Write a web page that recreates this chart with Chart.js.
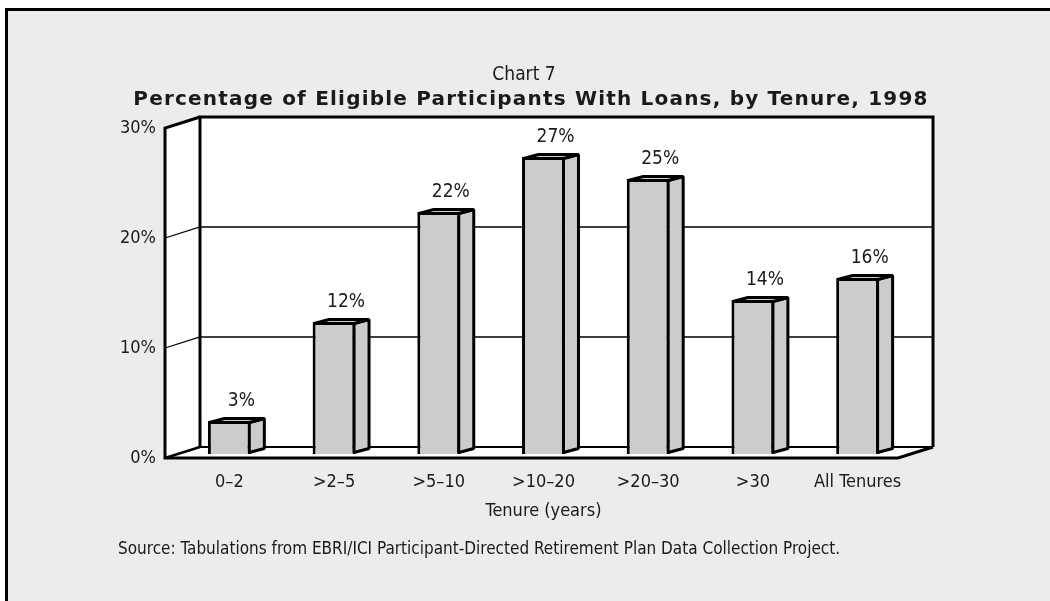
<!DOCTYPE html>
<html>
<head>
<meta charset="utf-8">
<script src="https://cdn.jsdelivr.net/npm/chart.js@4.4.0/dist/chart.umd.min.js"></script>
<style>
  html, body { margin: 0; padding: 0; background: #fff; }
</style>
</head>
<body>
<canvas id="loanChart" width="1050" height="601"></canvas>
<script>
const tenures = ["0–2", ">2–5", ">5–10", ">10–20", ">20–30", ">30", "All Tenures"];
const loanShare = [3, 12, 22, 27, 25, 14, 16];
const yTicks = [0, 10, 20, 30];

const NARROW = "'Liberation Sans Narrow', 'DejaVu Sans Condensed', 'Arial Narrow', sans-serif";
const INK = "#1a1a1a";

// oblique offsets (px) relative to the plane the bar fronts sit on
const FRONT = { dx: -12, dy: 4 };
const BACK = { dx: 23, dy: -7 };
const SIDE = { dx: 15, dy: -4 };

function line(ctx, pts, width) {
  ctx.beginPath();
  ctx.moveTo(pts[0][0], pts[0][1]);
  for (let i = 1; i < pts.length; i++) ctx.lineTo(pts[i][0], pts[i][1]);
  ctx.lineWidth = width;
  ctx.stroke();
}

function poly(ctx, pts, fill, width) {
  ctx.beginPath();
  ctx.moveTo(pts[0][0], pts[0][1]);
  for (let i = 1; i < pts.length; i++) ctx.lineTo(pts[i][0], pts[i][1]);
  ctx.closePath();
  if (fill) { ctx.fillStyle = fill; ctx.fill(); }
  if (width) { ctx.lineWidth = width; ctx.stroke(); }
}

const panel = {
  id: "panel",
  beforeDraw(chart) {
    const { ctx, width, height } = chart;
    ctx.save();
    ctx.fillStyle = "#fff";
    ctx.fillRect(0, 0, width, height);
    ctx.fillStyle = "#ececec";
    ctx.fillRect(5, 8, width, height);
    ctx.strokeStyle = "#000";
    line(ctx, [[6.5, height + 5], [6.5, 9.5], [width + 5, 9.5]], 3);
    ctx.restore();
  }
};

// back wall, left wall and floor
const box3d = {
  id: "box3d",
  beforeDatasetsDraw(chart) {
    const { ctx, chartArea: a, scales: { y } } = chart;
    const fl = a.left + FRONT.dx, fr = a.right + FRONT.dx;
    const bl = a.left + BACK.dx, br = a.right + BACK.dx;
    const fy = v => y.getPixelForValue(v) + FRONT.dy;
    const by = v => y.getPixelForValue(v) + BACK.dy;
    const lo = yTicks[0], hi = yTicks[yTicks.length - 1];
    ctx.save();
    ctx.strokeStyle = "#000";
    ctx.lineJoin = "miter";
    ctx.miterLimit = 3;
    poly(ctx, [[bl, by(hi)], [br, by(hi)], [br, by(lo)], [bl, by(lo)]], "#fff");
    poly(ctx, [[fl, fy(hi)], [bl, by(hi)], [bl, by(lo)], [fl, fy(lo)]], "#fff");
    poly(ctx, [[fl, fy(lo)], [bl, by(lo)], [br, by(lo)], [fr, fy(lo)]], "#fff");
    yTicks.slice(1, -1).forEach(v => {
      line(ctx, [[fl, fy(v)], [bl, by(v)], [br, by(v)]], 1.3);
    });
    line(ctx, [[bl, by(lo)], [br, by(lo)]], 2);
    line(ctx, [[bl, by(lo)], [bl, by(hi)], [br, by(hi)], [br, by(lo)]], 3);
    line(ctx, [[bl, by(hi)], [fl, fy(hi)], [fl, fy(lo)], [fr, fy(lo)], [br, by(lo)]], 3);
    line(ctx, [[fl, fy(lo)], [bl, by(lo)]], 2.5);
    ctx.restore();
  }
};

// side and top faces of each bar, plus the value labels
const bars3d = {
  id: "bars3d",
  afterDatasetsDraw(chart) {
    const { ctx } = chart;
    const meta = chart.getDatasetMeta(0);
    ctx.save();
    ctx.strokeStyle = "#000";
    ctx.lineJoin = "bevel";
    meta.data.forEach((bar, i) => {
      const { x, y, base, width } = bar.getProps(["x", "y", "base", "width"], true);
      const l = x - width / 2 + 1.5, r = x + width / 2 - 1.5, t = y + 1.5, b = base - 1.5;
      poly(ctx, [[r, t], [r + SIDE.dx, t + SIDE.dy], [r + SIDE.dx, b + SIDE.dy], [r, b]], "#cccccc", 3);
      poly(ctx, [[l, t], [l + SIDE.dx, t + SIDE.dy], [r + SIDE.dx, t + SIDE.dy], [r, t]], "#cccccc", 3);
      ctx.fillStyle = INK;
      ctx.font = "19px " + NARROW;
      ctx.textAlign = "center";
      ctx.textBaseline = "middle";
      ctx.fillText(loanShare[i] + "%", x + 12, y - 20);
    });
    ctx.restore();
  }
};

const captions = {
  id: "captions",
  afterDraw(chart) {
    const { ctx } = chart;
    ctx.save();
    ctx.fillStyle = INK;
    ctx.textBaseline = "middle";
    ctx.textAlign = "center";
    ctx.font = "19px " + NARROW;
    ctx.fillText("Chart 7", 524, 75);
    ctx.font = "bold 20px 'DejaVu Sans', sans-serif";
    ctx.letterSpacing = "1.2px";
    ctx.fillText("Percentage of Eligible Participants With Loans, by Tenure, 1998", 531, 100);
    ctx.letterSpacing = "0px";
    ctx.textAlign = "left";
    ctx.font = "17px " + NARROW;
    ctx.fillText("Source: Tabulations from EBRI/ICI Participant-Directed Retirement Plan Data Collection Project.", 118, 550);
    ctx.restore();
  }
};

new Chart(document.getElementById("loanChart"), {
  type: "bar",
  data: {
    labels: tenures,
    datasets: [{
      data: loanShare,
      backgroundColor: "#cccccc",
      borderColor: "#000",
      borderWidth: 3,
      barPercentage: 0.41,
      categoryPercentage: 1
    }]
  },
  options: {
    responsive: false,
    animation: false,
    devicePixelRatio: 1,
    layout: { padding: { top: 124, left: 107, right: 140, bottom: 0 } },
    plugins: {
      legend: { display: false },
      title: { display: false },
      tooltip: { enabled: false }
    },
    scales: {
      x: {
        grid: { display: false, drawTicks: false },
        border: { display: false },
        ticks: { color: INK, padding: 18, font: { family: NARROW, size: 18 } },
        title: {
          display: true,
          text: "Tenure (years)",
          color: INK,
          font: { family: NARROW, size: 18 },
          padding: { top: 0, bottom: 79 }
        },
        afterFit(scale) { scale.height = 147; }
      },
      y: {
        min: 0,
        max: 30,
        grid: { display: false, drawTicks: false },
        border: { display: false },
        afterBuildTicks(scale) { scale.ticks = yTicks.map(v => ({ value: v })); },
        ticks: {
          color: INK,
          padding: 21,
          labelOffset: 4,
          font: { family: NARROW, size: 18 },
          callback: v => v + "%"
        },
        afterFit(scale) { scale.width = 70; }
      }
    }
  },
  plugins: [panel, box3d, bars3d, captions]
});
</script>
</body>
</html>
